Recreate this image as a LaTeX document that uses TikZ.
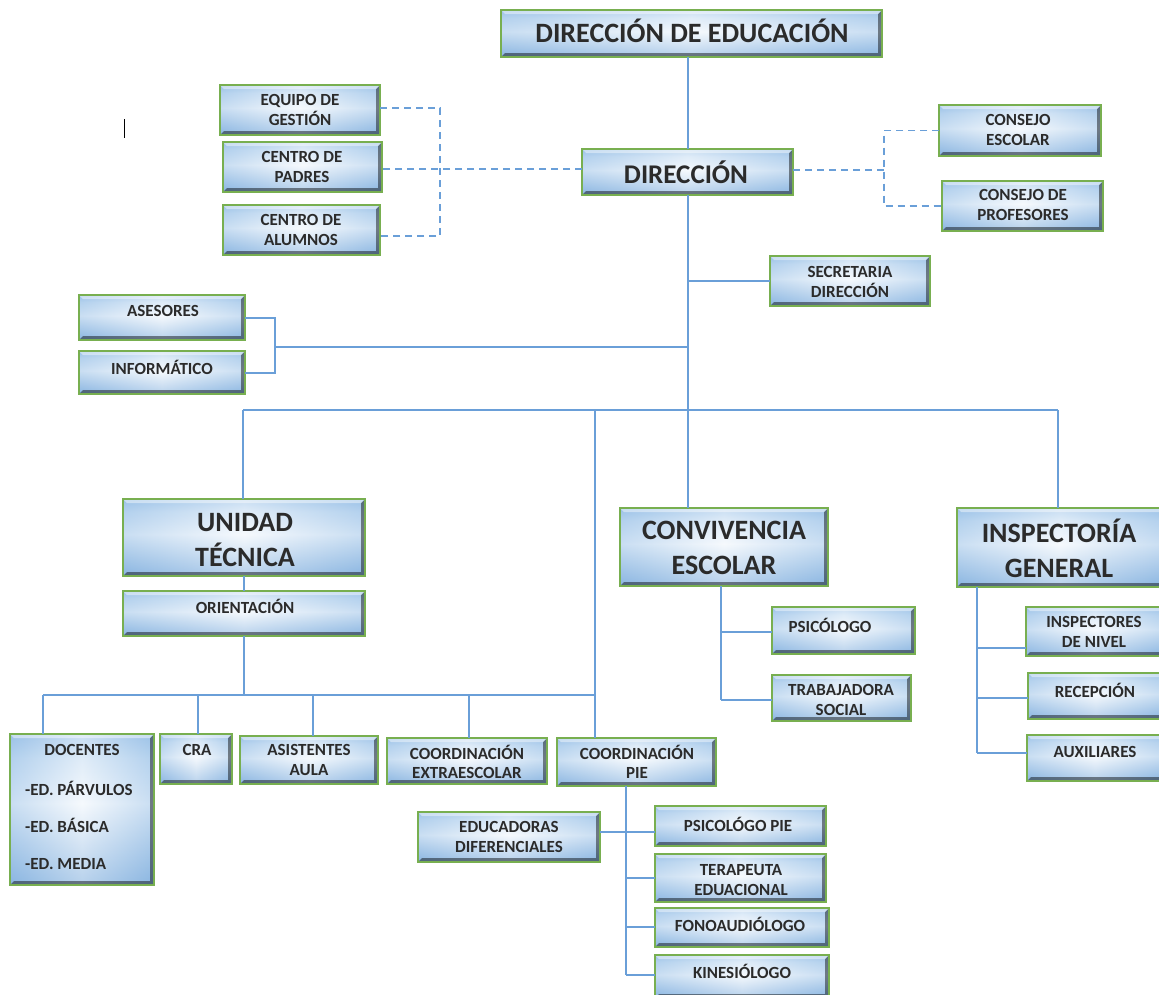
\documentclass[tikz,border=0pt]{standalone}
\usepackage{fontspec}
\setmainfont{Carlito}
\usetikzlibrary{calc}
\definecolor{bxA}{HTML}{86B2DF}
\definecolor{bxB}{HTML}{F0F6FC}
\definecolor{bxC}{HTML}{CBE0F4}
\definecolor{bxD}{HTML}{A3C7EA}
\definecolor{bxE}{HTML}{8FBAE4}
\definecolor{bxG}{HTML}{78AF50}
\definecolor{lnB}{HTML}{6A9FD8}
\definecolor{txtc}{HTML}{2B2B2B}
\pgfdeclareverticalshading{boxshade}{100bp}{color(0bp)=(bxA); color(25bp)=(bxA); color(52bp)=(bxB); color(67bp)=(bxC); color(75bp)=(bxD); color(100bp)=(bxD)}
\tikzset{
  orgbox/.style={draw=bxG, line width=1.8pt, inner sep=0pt, outer sep=0pt, shade, shading=boxshade,
    path picture={
      \shade[left color=bxE, right color=bxE, middle color=white, opacity=.4] (path picture bounding box.south west) rectangle (path picture bounding box.north east);
      \fill[black, opacity=.45] (path picture bounding box.north east) -- (path picture bounding box.south east) -- (path picture bounding box.south west) -- ([xshift=4pt,yshift=4pt]path picture bounding box.south west) -- ([xshift=-4pt,yshift=4pt]path picture bounding box.south east) -- ([xshift=-4pt,yshift=-4pt]path picture bounding box.north east) -- cycle;
      \fill[white, opacity=.45] (path picture bounding box.north west) -- (path picture bounding box.north east) -- ([xshift=-4pt,yshift=-4pt]path picture bounding box.north east) -- ([xshift=4pt,yshift=-4pt]path picture bounding box.north west) -- cycle;
    }},
  sm/.style={font=\bfseries\fontsize{17}{19.5}\selectfont, text=txtc, align=center, inner sep=0pt},
  bg/.style={font=\bfseries\fontsize{28}{35}\selectfont, text=txtc, align=center, inner sep=0pt},
  conn/.style={draw=lnB, line width=2pt},
  dconn/.style={draw=lnB, line width=1.8pt, dash pattern=on 7pt off 5pt}
}
\newcommand\obox[5]{\node[orgbox,anchor=north west,minimum width={(#4-(#2))*1pt},minimum height={(#5-(#3))*1pt}] (#1) at (#2,#3) {};}
\begin{document}
\begin{tikzpicture}[x=1pt,y=-1pt]
\fill[white] (0,0) rectangle (1159,994);
\useasboundingbox (0,0) rectangle (1159,994);
% boxes
\obox{dde}{501}{10}{882}{57}
\obox{eq}{220}{85}{380}{135}
\obox{pad}{223}{142}{382}{192}
\obox{alu}{223}{205}{380}{255}
\obox{dir}{582}{149}{793}{195}
\obox{ce}{939}{105}{1101}{156}
\obox{cp}{942}{181}{1103}{231}
\obox{sec}{770}{256}{930}{306}
\obox{ase}{79}{295}{245}{340}
\obox{inf}{79}{351}{245}{394}
\obox{ut}{123}{499}{365}{576}
\obox{ori}{123}{591}{365}{636}
\obox{conv}{620}{508}{828}{586}
\obox{insp}{957}{508}{1163}{587}
\obox{psi}{772}{607}{915}{654}
\obox{trab}{772}{675}{911}{721}
\obox{insn}{1026}{607}{1163}{656}
\obox{rec}{1028}{673}{1163}{719}
\obox{aux}{1027}{735}{1163}{781}
\obox{doc}{10}{734}{154}{885}
\obox{cra}{160}{734}{232}{784}
\obox{asis}{240}{736}{378}{784}
\obox{ext}{387}{738}{547}{784}
\obox{pie}{557}{738}{716}{786}
\obox{edu}{418}{812}{600}{862}
\obox{psp}{655}{806}{826}{846}
\obox{ter}{655}{854}{826}{902}
\obox{fon}{655}{908}{829}{947}
\obox{kin}{655}{955}{829}{998}
% labels
\node[bg, font=\bfseries\fontsize{28}{35}\selectfont] (ddet) at (692,31) {DIRECCIÓN DE EDUCACIÓN};
\node[sm] (eqt) at (300,110) {EQUIPO DE\\GESTIÓN};
\node[sm] (padt) at (302,167) {CENTRO DE\\PADRES};
\node[sm] (alut) at (301,230) {CENTRO DE\\ALUMNOS};
\node[bg, font=\bfseries\fontsize{27}{35}\selectfont] (dirt) at (686,172) {DIRECCIÓN};
\node[sm] (cet) at (1018,130) {CONSEJO\\ESCOLAR};
\node[sm] (cpt) at (1023,205) {CONSEJO DE\\PROFESORES};
\node[sm] (sect) at (850,282) {SECRETARIA\\DIRECCIÓN};
\node[sm] (aset) at (163,311) {ASESORES};
\node[sm] (inft) at (162,367) {INFORMÁTICO};
\node[bg] (utt) at (245,540) {UNIDAD\\TÉCNICA};
\node[sm] (orit) at (245,606) {ORIENTACIÓN};
\node[bg] (convt) at (724,548) {CONVIVENCIA\\ESCOLAR};
\node[bg] (inspt) at (1059,548) {INSPECTORÍA\\GENERAL};
\node[sm] (psit) at (830,625) {PSICÓLOGO};
\node[sm] (trabt) at (841,700) {TRABAJADORA\\SOCIAL};
\node[sm] (insnt) at (1094,632) {INSPECTORES\\DE NIVEL};
\node[sm] (rect) at (1095,690) {RECEPCIÓN};
\node[sm] (auxt) at (1095,752) {AUXILIARES};
\node[sm] (doct) at (82,750) {DOCENTES};
\node[sm, anchor=west] (doc1) at (25,788) {-ED. PÁRVULOS};
\node[sm, anchor=west] (doc2) at (25,825) {-ED. BÁSICA};
\node[sm, anchor=west] (doc3) at (25,864) {-ED. MEDIA};
\node[sm] (crat) at (197,750) {CRA};
\node[sm] (asist) at (309,760) {ASISTENTES\\AULA};
\node[sm] (extt) at (467,762) {COORDINACIÓN\\EXTRAESCOLAR};
\node[sm] (piet) at (637,762) {COORDINACIÓN\\PIE};
\node[sm] (edut) at (509,837) {EDUCADORAS\\DIFERENCIALES};
\node[sm] (pspt) at (738,824) {PSICOLÓGO PIE};
\node[sm] (tert) at (741,880) {TERAPEUTA\\EDUACIONAL};
\node[sm] (font) at (740,924) {FONOAUDIÓLOGO};
\node[sm] (kint) at (742,971) {KINESIÓLOGO};
% cursor mark
\draw[black, line width=1pt] (124,119) -- (124,138);
% solid connectors
\draw[conn] (dir.north) -- (dir.north |- dde.south);
\draw[conn] (dir.south) -- (dir.south |- conv.north);
\draw[conn] (sec.west) -- (sec.west -| dir.south);
\coordinate (aj) at (275,347);
\draw[conn] (aj) -- (aj -| dir.south);
\draw[conn] (ase.east) -| (aj) |- (inf.east);
\coordinate (busL) at (243,410);
\coordinate (busM) at (595,410);
\coordinate (busR) at (1058,410);
\draw[conn] (busL) -- (busR);
\draw[conn] (busL) -- (busL |- ut.north);
\draw[conn] (busR) -- (busR |- insp.north);
\draw[conn] (busM) -- (busM |- pie.north);
\draw[conn] (ut.south) -- (ori.north);
\coordinate (b2L) at (43,695);
\coordinate (b2R) at (595,695);
\draw[conn] (ori.south) -- (ori.south |- b2L);
\draw[conn] (b2L) -- (b2R);
\draw[conn] (b2L) -- (b2L |- doc.north);
\coordinate (b2c) at (198,695);
\draw[conn] (b2c) -- (b2c |- cra.north);
\coordinate (b2a) at (313,695);
\draw[conn] (b2a) -- (b2a |- asis.north);
\coordinate (b2e) at (469,695);
\draw[conn] (b2e) -- (b2e |- ext.north);
% convivencia
\coordinate (cvx) at (721,700);
\draw[conn] (cvx |- conv.south) -- (cvx);
\draw[conn] (psi.west |- 0,632) -- (cvx |- 0,632);
\draw[conn] (trab.west |- cvx) -- (cvx);
% inspectoria
\coordinate (isx) at (977,753);
\draw[conn] (isx |- insp.south) -- (isx);
\draw[conn] (insn.west |- 0,648) -- (isx |- 0,648);
\draw[conn] (rec.west |- 0,698) -- (isx |- 0,698);
\draw[conn] (aux.west |- isx) -- (isx);
% pie
\coordinate (pix) at (626,975);
\draw[conn] (pix |- pie.south) -- (pix);
\draw[conn] (edu.east |- 0,832) -- (psp.west |- 0,832);
\draw[conn] (ter.west |- 0,878) -- (pix |- 0,878);
\draw[conn] (fon.west |- 0,927) -- (pix |- 0,927);
\draw[conn] (kin.west |- pix) -- (pix);
% dashed
\coordinate (dlx) at (440,0);
\draw[dconn] (dir.west |- 0,169) -- (pad.east |- 0,169);
\draw[dconn] (eq.east |- 0,108) -| (dlx |- 0,236) -- (alu.east |- 0,236);
\coordinate (drx) at (884,0);
\draw[dconn] (dir.east |- 0,170) -- (drx |- 0,170);
\draw[dconn] (ce.west) -| (drx |- cp.west) -- (cp.west);
\end{tikzpicture}
\end{document}
